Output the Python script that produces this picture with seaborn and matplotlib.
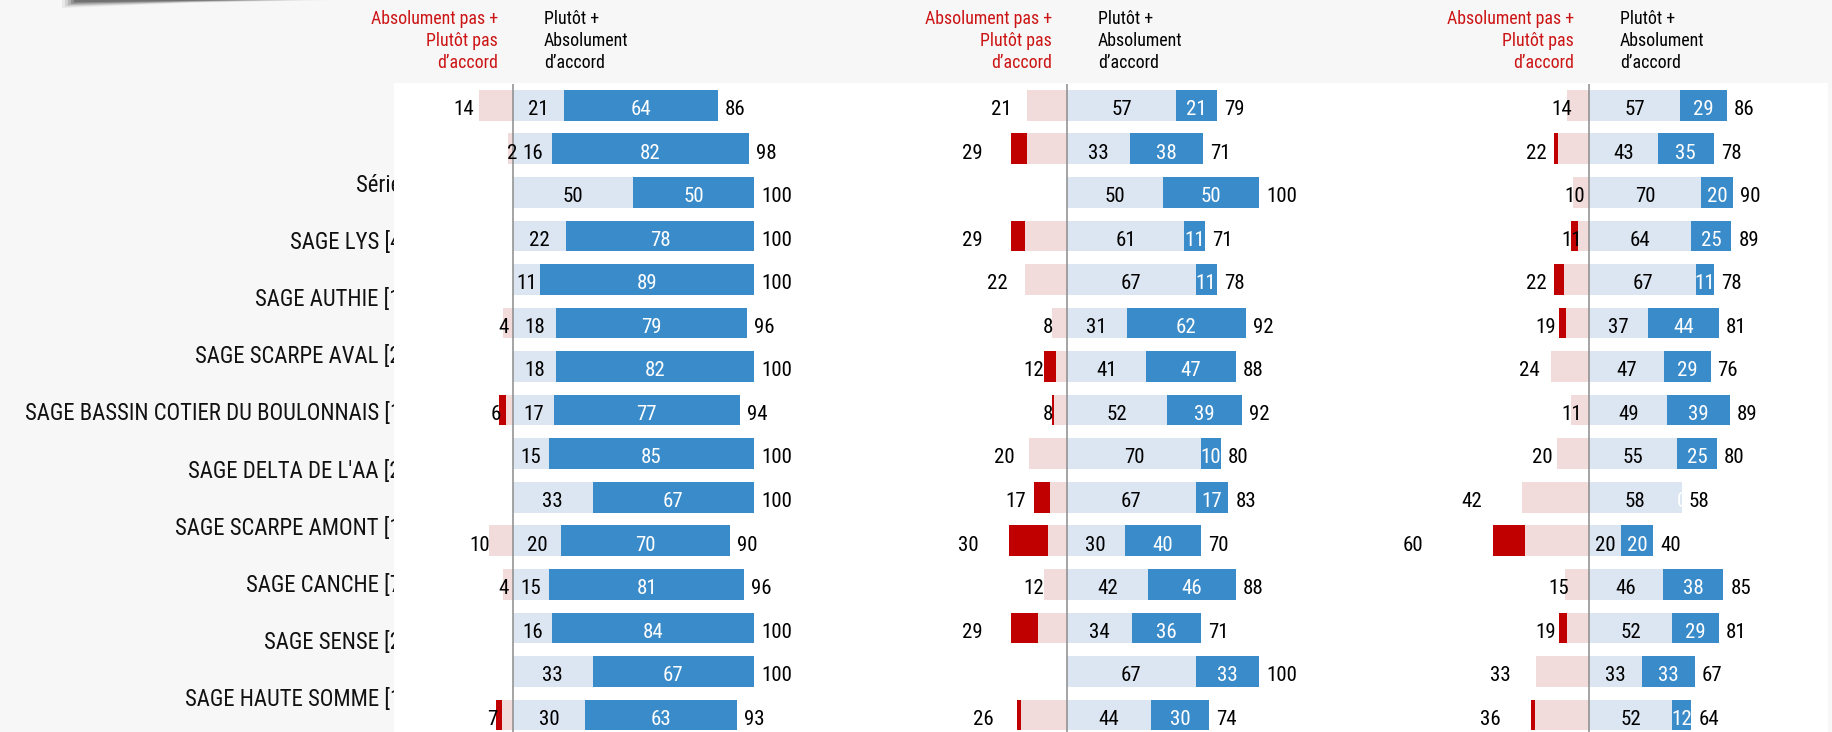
import os
import matplotlib
matplotlib.use("Agg")
import matplotlib.pyplot as plt
import seaborn as sns
import numpy as np
import pandas as pd
from matplotlib.patches import Rectangle, Polygon
from matplotlib import font_manager as fm

# ---------------- data ----------------
row_ids = [f"L{i:02d}" for i in range(1, 16)]

cat_labels = ["Série", "SAGE LYS [4", "SAGE AUTHIE [1", "SAGE SCARPE AVAL [2",
              "SAGE BASSIN COTIER DU BOULONNAIS [1", "SAGE DELTA DE L'AA [2",
              "SAGE SCARPE AMONT [1", "SAGE CANCHE [7", "SAGE SENSE [2",
              "SAGE HAUTE SOMME [1"]

neg_header = ["Absolument pas +", "Plutôt pas", "d’accord"]
pos_header = ["Plutôt +", "Absolument", "d’accord"]

p1_neg_total  = [14, 2, 0, 0, 0, 4, 0, 6, 0, 0, 10, 4, 0, 0, 7]
p1_neg_strong = [0, 0, 0, 0, 0, 0, 0, 3.2, 0, 0, 0, 0, 0, 0, 2.5]
p1_pos_plutot = [21, 16, 50, 22, 11, 18, 18, 17, 15, 33, 20, 15, 16, 33, 30]
p1_pos_abs    = [64, 82, 50, 78, 89, 79, 82, 77, 85, 67, 70, 81, 84, 67, 63]
p1_pos_total  = [86, 98, 100, 100, 100, 96, 100, 94, 100, 100, 90, 96, 100, 100, 93]

p2_neg_total  = [21, 29, 0, 29, 22, 8, 12, 8, 20, 17, 30, 12, 29, 0, 26]
p2_neg_strong = [0, 8.3, 0, 7.3, 0, 0, 6.2, 1.0, 0, 8.3, 20.3, 0, 14, 0, 2.1]
p2_pos_plutot = [57, 33, 50, 61, 67, 31, 41, 52, 70, 67, 30, 42, 34, 67, 44]
p2_pos_abs    = [21, 38, 50, 11, 11, 62, 47, 39, 10, 17, 40, 46, 36, 33, 30]
p2_pos_total  = [79, 71, 100, 71, 78, 92, 88, 92, 80, 83, 70, 88, 71, 100, 74]

p3_neg_total  = [14, 22, 10, 11, 22, 19, 24, 11, 20, 42, 60, 15, 19, 33, 36]
p3_neg_strong = [0, 2.5, 0, 4.4, 6.2, 4.4, 0, 0, 0, 0, 20, 0, 5, 0, 2.5]
p3_pos_plutot = [57, 43, 70, 64, 67, 37, 47, 49, 55, 58, 20, 46, 52, 33, 52]
p3_pos_abs    = [29, 35, 20, 25, 11, 44, 29, 39, 25, 0, 20, 38, 29, 33, 12]
p3_pos_total  = [86, 78, 90, 89, 78, 81, 76, 89, 80, 58, 40, 85, 81, 67, 64]

# ---------------- font: look for a narrow / condensed sans ----------------
sns.set_style("white")
plt.rcParams["font.family"] = ["Liberation Sans", "DejaVu Sans"]

BAD = ("bold", "italic", "oblique", "light", "thin", "black", "medium",
       "semibold", "extrabold", "heavy", "mono", "serif", "display", "ui")


def find_narrow():
    best, best_rank = None, 99
    for f in fm.fontManager.ttflist:
        stem = os.path.basename(f.fname).lower().rsplit(".", 1)[0]
        if any(b in stem for b in BAD):
            continue
        rank = None
        if "liberationsansnarrow" in stem or "arialnarrow" in stem or stem == "arialn":
            rank = 0
        elif stem in ("notosans-condensed", "notosans-condensedregular"):
            rank = 1
        elif "robotocondensed" in stem and "regular" in stem:
            rank = 2
        elif "opensans" in stem and "condensed" in stem and "semi" not in stem:
            rank = 3
        elif stem in ("notosans-semicondensed", "notosans-semicondensedregular"):
            rank = 4
        elif stem == "dejavusanscondensed":
            rank = 5
        elif "condensed" in stem and "sans" in stem and "extra" not in stem:
            rank = 6
        if rank is not None and rank < best_rank:
            best, best_rank = f.fname, rank
    return best, best_rank


narrow_path, narrow_rank = find_narrow()


def fp(size):
    if narrow_path:
        return fm.FontProperties(fname=narrow_path, size=size)
    return fm.FontProperties(family=["Liberation Sans", "DejaVu Sans"], size=size)


if narrow_path is None:
    NUM_FS, HEAD_FS, CAT_FS = 12.8, 11.3, 13.5
else:
    NUM_FS, HEAD_FS, CAT_FS = 15.0, 12.9, 16.4

C_RED = "#c00000"
C_PINK = "#f2dcdb"
C_LIGHT = "#dce6f2"
C_BLUE = "#3a8bca"
C_HEAD_RED = "#cc1414"
BG = "#f7f7f7"

W, H = 1833, 732
fig = plt.figure(figsize=(W / 100, H / 100), dpi=100)
fig.patch.set_facecolor(BG)


def fx(x):
    return x / W


def fy(y):
    return 1 - y / H


# page-curl shadow at top-left
for j, a in enumerate([0.08, 0.14, 0.22, 0.32, 0.45]):
    th = 8 - j * 1.4
    poly = Polygon([(fx(62 + j * 3), fy(0)), (fx(330 - j * 22), fy(0)),
                    (fx(190), fy(th * 0.35)), (fx(62 + j * 3), fy(th))],
                   closed=True, facecolor="#4a4a4a", edgecolor="none",
                   alpha=a, transform=fig.transFigure, zorder=0.3)
    fig.add_artist(poly)

# category labels (partly hidden under the white panel)
lab_y0, lab_dy = 185, 57.2
for i, lab in enumerate(cat_labels):
    fig.text(fx(401), fy(lab_y0 + i * lab_dy), lab, ha="right", va="center",
             fontproperties=fp(CAT_FS), color="#111111", zorder=0.5)

# white plotting panel
rect = Rectangle((fx(394), 0), fx(1828) - fx(394), fy(83), transform=fig.transFigure,
                 facecolor="white", edgecolor="none", zorder=0.8)
fig.add_artist(rect)

row_top_px = 83.5
row_pitch = 43.55
n = len(row_ids)
ax_bottom_px = row_top_px + row_pitch * n

panels = [
    dict(zero=513, scale=2.41, L=395, R=800, lab=(1.65, -2.8),
         neg=p1_neg_total, strong=p1_neg_strong, plutot=p1_pos_plutot,
         absol=p1_pos_abs, total=p1_pos_total),
    dict(zero=1067, scale=1.92, L=800, R=1330, lab=(1.88, -5.2),
         neg=p2_neg_total, strong=p2_neg_strong, plutot=p2_pos_plutot,
         absol=p2_pos_abs, total=p2_pos_total),
    dict(zero=1589, scale=1.60, L=1330, R=1828, lab=(2.02, -11.3),
         neg=p3_neg_total, strong=p3_neg_strong, plutot=p3_pos_plutot,
         absol=p3_pos_abs, total=p3_pos_total),
]

BAR_W = 0.705
num_fp = fp(NUM_FS)
head_fp = fp(HEAD_FS)

for p in panels:
    ax = fig.add_axes([fx(p["L"]), fy(ax_bottom_px), fx(p["R"]) - fx(p["L"]),
                       (ax_bottom_px - row_top_px) / H])
    ax.set_zorder(2)
    df = pd.DataFrame({
        "row": row_ids,
        "neg_full": -np.array(p["neg"], float),
        "neg_mild": -(np.array(p["neg"], float) - np.array(p["strong"], float)),
        "pos_full": np.array(p["plutot"], float) + np.array(p["absol"], float),
        "pos_mild": np.array(p["plutot"], float),
    })
    for col, c in [("neg_full", C_RED), ("neg_mild", C_PINK),
                   ("pos_full", C_BLUE), ("pos_mild", C_LIGHT)]:
        sns.barplot(data=df, x=col, y="row", orient="h", color=c, saturation=1,
                    width=BAR_W, errorbar=None, linewidth=0, ax=ax)
    x0 = (p["L"] - p["zero"]) / p["scale"]
    x1 = (p["R"] - p["zero"]) / p["scale"]
    ax.set_xlim(x0, x1)
    ax.set_ylim(n - 0.5, -0.5)
    ax.set_axis_off()
    ax.axvline(0, color="#8c8c8c", lw=1.1, zorder=10)

    a, b = p["lab"]
    gap = 7 / p["scale"]
    dy = 0.225
    for i in range(n):
        v = p["neg"][i]
        if v > 0:
            ax.text(-(a * v + b), i + dy, f"{v}", ha="center", va="baseline",
                    fontproperties=num_fp, color="black", zorder=12)
        pl, ab = p["plutot"][i], p["absol"][i]
        if pl > 0:
            ax.text(pl / 2, i + dy, f"{pl}", ha="center", va="baseline",
                    fontproperties=num_fp, color="black", zorder=12)
        ax.text(pl + ab / 2, i + dy, f"{ab}", ha="center", va="baseline",
                fontproperties=num_fp, color="white", zorder=12)
        ax.text(pl + ab + gap, i + dy, f"{p['total'][i]}", ha="left", va="baseline",
                fontproperties=num_fp, color="black", zorder=12)

    # headers
    for j, (tn, tp) in enumerate(zip(neg_header, pos_header)):
        yb = 24.5 + 22 * j
        fig.text(fx(p["zero"] - 15), fy(yb), tn, ha="right", va="baseline",
                 fontproperties=head_fp, color=C_HEAD_RED, zorder=5)
        fig.text(fx(p["zero"] + 31), fy(yb), tp, ha="left", va="baseline",
                 fontproperties=head_fp, color="black", zorder=5)

fig.savefig("out.png", dpi=100, facecolor=fig.get_facecolor())
